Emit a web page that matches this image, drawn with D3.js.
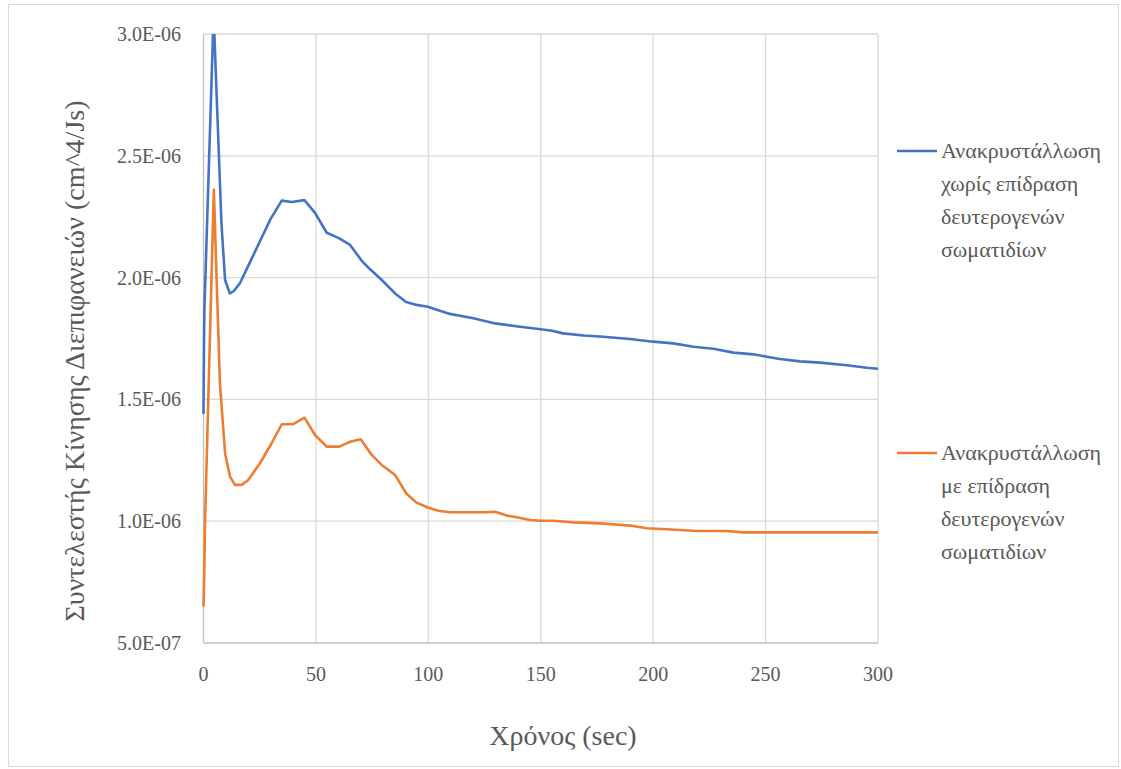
<!DOCTYPE html>
<html>
<head>
<meta charset="utf-8">
<script src="https://cdn.jsdelivr.net/npm/d3@7.9.0/dist/d3.min.js"></script>
<style>
  body { margin: 0; background: #fff; }
  svg text { font-family: "Liberation Serif", "Tinos", "Times New Roman", "DejaVu Serif", serif; fill: #595959; }
</style>
</head>
<body>
<svg id="chart" width="1121" height="769"></svg>
<script>
// time (sec) and coefficient values (units of 1e-6 cm^4/Js)
const blueTime = [0, 0.2, 0.4, 4.5, 8, 9.6, 11.7, 13.5, 16.2, 20, 25, 29.8, 34.8, 39.2, 44.9, 49.6, 54.8, 60.4, 65.2, 70.4, 74.1, 79.3, 85.2, 90.1, 94.8, 99.7, 109.6, 120, 129.7, 140.8, 150, 155, 160, 169, 176.4, 189.7, 200, 209, 217.9, 226.8, 235.7, 244.6, 250.5, 256.4, 265.3, 274.2, 286.1, 295, 300];
const blueVals = [1.44, 1.71, 1.87, 3.08, 2.22, 1.99, 1.935, 1.945, 1.977, 2.05, 2.147, 2.24, 2.316, 2.31, 2.318, 2.266, 2.184, 2.161, 2.134, 2.069, 2.034, 1.99, 1.935, 1.9, 1.888, 1.88, 1.851, 1.833, 1.812, 1.798, 1.788, 1.782, 1.771, 1.762, 1.758, 1.748, 1.737, 1.73, 1.716, 1.708, 1.692, 1.685, 1.675, 1.666, 1.656, 1.651, 1.64, 1.63, 1.626];

const orangeTime = [0, 0.3, 0.7, 4.6, 7.3, 9.6, 11.8, 14, 17, 19.9, 25.1, 30.3, 34.8, 39.9, 44.9, 49.6, 54.8, 60.4, 65.2, 69.9, 74.8, 79.3, 85.2, 90.1, 94.8, 99.7, 104.5, 109.6, 120, 125.2, 129.7, 134.9, 139.3, 145.2, 150, 155.6, 164.5, 176.4, 189.7, 197.2, 206, 219.4, 232.7, 240.1, 250.5, 300];
const orangeVals = [0.65, 0.77, 1.0, 2.36, 1.566, 1.279, 1.183, 1.149, 1.149, 1.169, 1.238, 1.32, 1.398, 1.398, 1.425, 1.354, 1.306, 1.306, 1.326, 1.336, 1.272, 1.231, 1.19, 1.115, 1.076, 1.056, 1.043, 1.037, 1.037, 1.037, 1.039, 1.023, 1.016, 1.005, 1.002, 1.002, 0.995, 0.991, 0.982, 0.971, 0.967, 0.96, 0.96, 0.954, 0.954, 0.954];

const xTicks = [0, 50, 100, 150, 200, 250, 300];
const yTicks = [0.5, 1.0, 1.5, 2.0, 2.5, 3.0];
const yTickLabels = ["5.0E-07", "1.0E-06", "1.5E-06", "2.0E-06", "2.5E-06", "3.0E-06"];

const seriesNames = [
  ["Ανακρυστάλλωση", "χωρίς επίδραση", "δευτερογενών", "σωματιδίων"],
  ["Ανακρυστάλλωση", "με επίδραση", "δευτερογενών", "σωματιδίων"]
];
const seriesColors = ["#4472C4", "#ED7D31"];

const svg = d3.select("#chart")
  .attr("font-family", "Liberation Serif, Tinos, DejaVu Serif, serif");
const plot = { left: 203.5, right: 878, top: 34, bottom: 643 };

// outer chart border
svg.append("rect")
  .attr("x", 8.5).attr("y", 4.5)
  .attr("width", 1110).attr("height", 762)
  .attr("fill", "none").attr("stroke", "#D9D9D9");

const x = d3.scaleLinear().domain([0, 300]).range([plot.left, plot.right]);
const y = d3.scaleLinear().domain([0.5, 3.0]).range([plot.bottom, plot.top]);

// gridlines
svg.append("g").selectAll("line").data(yTicks.slice(1)).join("line")
  .attr("x1", plot.left).attr("x2", plot.right)
  .attr("y1", d => y(d)).attr("y2", d => y(d))
  .attr("stroke", "#D9D9D9").attr("stroke-width", 1.3);
svg.append("g").selectAll("line").data(xTicks.slice(1)).join("line")
  .attr("x1", d => x(d)).attr("x2", d => x(d))
  .attr("y1", plot.top).attr("y2", plot.bottom)
  .attr("stroke", "#D9D9D9").attr("stroke-width", 1.3);

// axis lines
svg.append("line")
  .attr("x1", plot.left).attr("x2", plot.right)
  .attr("y1", plot.bottom).attr("y2", plot.bottom)
  .attr("stroke", "#BFBFBF").attr("stroke-width", 1.3);
svg.append("line")
  .attr("x1", plot.left).attr("x2", plot.left)
  .attr("y1", plot.top).attr("y2", plot.bottom)
  .attr("stroke", "#BFBFBF").attr("stroke-width", 1.3);

// tick labels
svg.append("g").selectAll("text").data(xTicks).join("text")
  .attr("x", d => x(d)).attr("y", 681)
  .attr("text-anchor", "middle")
  .attr("font-size", 20)
  .text(d => d);
svg.append("g").selectAll("text").data(yTicks).join("text")
  .attr("x", 181).attr("y", d => y(d) + 7)
  .attr("text-anchor", "end")
  .attr("font-size", 20)
  .text((d, i) => yTickLabels[i]);

// axis titles
svg.append("text")
  .attr("x", 563).attr("y", 745)
  .attr("text-anchor", "middle")
  .attr("font-size", 28)
  .text("Χρόνος (sec)");
svg.append("text")
  .attr("transform", "translate(84,361) rotate(-90)")
  .attr("text-anchor", "middle")
  .attr("font-size", 28)
  .text("Συντελεστής Κίνησης Διεπιφανειών (cm^4/Js)");

// lines
svg.append("clipPath").attr("id", "clip")
  .append("rect")
  .attr("x", plot.left - 3).attr("y", plot.top)
  .attr("width", plot.right - plot.left + 6).attr("height", plot.bottom - plot.top);

const line = d3.line().x(d => x(d[0])).y(d => y(d[1]));
const series = [
  d3.zip(blueTime, blueVals),
  d3.zip(orangeTime, orangeVals)
];
svg.append("g").attr("clip-path", "url(#clip)")
  .selectAll("path").data(series).join("path")
  .attr("d", line)
  .attr("fill", "none")
  .attr("stroke", (d, i) => seriesColors[i])
  .attr("stroke-width", 2.6)
  .attr("stroke-linejoin", "round");

// legend
const legendY = [151, 453];
seriesNames.forEach((lines, i) => {
  const g = svg.append("g");
  g.append("line")
    .attr("x1", 897).attr("x2", 937)
    .attr("y1", legendY[i]).attr("y2", legendY[i])
    .attr("stroke", seriesColors[i]).attr("stroke-width", 2.6);
  g.selectAll("text").data(lines).join("text")
    .attr("x", 941)
    .attr("y", (d, j) => legendY[i] + 7 + j * 33)
    .attr("font-size", 22)
    .text(d => d);
});
</script>
</body>
</html>
